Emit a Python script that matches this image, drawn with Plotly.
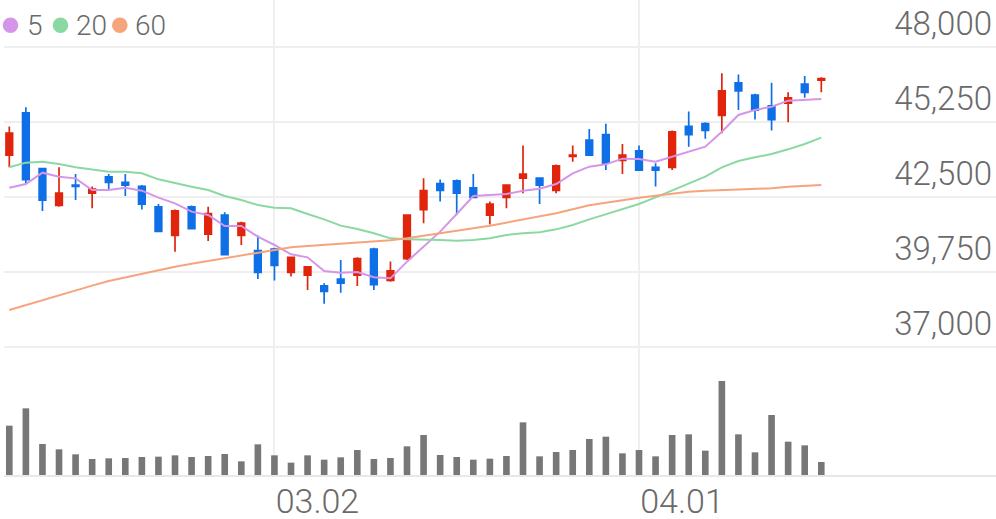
import plotly.graph_objects as go

# ---------------- data ----------------
dates = ["02.07", "02.10", "02.11", "02.12", "02.13", "02.14", "02.17", "02.18", "02.19", "02.20",
         "02.21", "02.24", "02.25", "02.26", "02.27", "02.28", "03.02", "03.03", "03.04", "03.05",
         "03.06", "03.09", "03.10", "03.11", "03.12", "03.13", "03.16", "03.17", "03.18", "03.19",
         "03.20", "03.23", "03.24", "03.25", "03.26", "03.27", "03.30", "03.31", "04.01", "04.02",
         "04.03", "04.06", "04.07", "04.08", "04.09", "04.10", "04.13", "04.14", "04.16", "04.17"]

open_ = [44050, 45600, 43550, 42200, 42950, 42650, 43250, 43050, 42900, 42150,
         41100, 42150, 41150, 41850, 41100, 40550, 40600, 39750, 39650, 39250,
         39500, 39650, 40600, 39450, 40250, 42050, 43000, 43100, 42850, 41850,
         42500, 43200, 43200, 42750, 44000, 44600, 44800, 43850, 44200, 43600,
         43600, 45100, 45200, 45500, 46700, 46250, 45850, 45950, 46650, 46800]
high = [45100, 45800, 43550, 43600, 43350, 42900, 43350, 43350, 42950, 42250,
        42050, 42200, 42150, 41950, 41600, 41100, 40650, 40300, 39950, 39350,
        40200, 40300, 40650, 40150, 41850, 43200, 43150, 43150, 43350, 42350,
        42950, 44400, 43200, 43700, 44400, 45000, 45200, 44450, 44400, 43750,
        44950, 45650, 45250, 47050, 47000, 46300, 46700, 46350, 46950, 46900]
low = [43600, 43000, 42000, 42150, 42400, 42100, 42800, 42550, 42050, 41250,
       40500, 41350, 40900, 40400, 40750, 39500, 39450, 39600, 39100, 38600,
       39000, 39250, 39100, 39400, 40200, 41550, 42350, 41850, 42500, 41500,
       42100, 42650, 42250, 42650, 43800, 44050, 43500, 43350, 43500, 42900,
       43500, 44350, 44650, 44850, 45700, 45350, 44950, 45250, 46150, 46350]
close = [44850, 43150, 42400, 42650, 42900, 42800, 43050, 42950, 42250, 41250,
         42000, 41350, 41900, 40400, 41550, 39750, 40000, 40300, 39950, 39050,
         39350, 40250, 39300, 39800, 41850, 42750, 42750, 42650, 42500, 42250,
         42950, 43350, 42950, 43650, 44050, 44050, 43750, 44050, 43500, 43500,
         44900, 44800, 44950, 46400, 46400, 45700, 45350, 46150, 46350, 46850]

ma5 = [42853, 42988, 43403, 43257, 43195, 42768, 42768, 42853, 42743, 42486,
       42279, 41973, 41851, 41448, 41448, 41057, 40751, 40409, 40299, 39798,
       39737, 39761, 39566, 39529, 40140, 40690, 41240, 41887, 42548, 42584,
       42621, 42743, 42817, 42988, 43379, 43623, 43709, 43917, 43904, 43807,
       43990, 44173, 44357, 44907, 45518, 45701, 45823, 46043, 46068, 46104]
ma20 = [43599, 43770, 43807, 43721, 43599, 43525, 43440, 43440, 43379, 43159,
        43012, 42890, 42768, 42548, 42401, 42218, 42120, 42095, 41887, 41692,
        41460, 41338, 41179, 40995, 40959, 40959, 40934, 40910, 40934, 40995,
        41118, 41179, 41216, 41325, 41485, 41692, 41887, 42059, 42254, 42499,
        42743, 42988, 43257, 43599, 43831, 43966, 44088, 44259, 44454, 44687]
ma60 = [38368, 38551, 38734, 38893, 39077, 39260, 39431, 39566, 39700, 39834,
        39957, 40067, 40164, 40262, 40348, 40445, 40568, 40665, 40714, 40751,
        40800, 40837, 40873, 40922, 40995, 41081, 41179, 41276, 41362, 41460,
        41570, 41704, 41814, 41912, 42059, 42206, 42303, 42401, 42486, 42560,
        42646, 42707, 42743, 42768, 42792, 42804, 42829, 42890, 42927, 42951]

volume = [148000, 200000, 93000, 77000, 62000, 48000, 50000, 51000, 54000, 55000,
          59000, 54000, 57000, 63000, 41000, 92000, 59000, 37000, 59000, 46000,
          53000, 75000, 48000, 51000, 86000, 120000, 60000, 54000, 46000, 49000,
          57000, 158000, 56000, 69000, 75000, 108000, 115000, 65000, 75000, 56000,
          120000, 122000, 73000, 282000, 122000, 68000, 180000, 100000, 89000, 39000]

price_ticks = [37000, 39750, 42500, 45250, 48000]
date_ticks = ["03.02", "04.01"]
ma_names = ["5", "20", "60"]

# ---------------- styles ----------------
W, H = 996, 519
RED = "#e0250c"
BLUE = "#0f6fe6"
MA_COLORS = ["#d595e8", "#8bd9a2", "#f6a47c"]
GRID = "#efefef"
TEXT = "#6a6a6a"
FONT = "Roboto"


def py(px):  # pixel from top -> paper y
    return (H - px) / H


def pxx(px):
    return px / W


fig = go.Figure()

fig.add_trace(go.Candlestick(
    x=dates, open=open_, high=high, low=low, close=close,
    increasing=dict(line=dict(color=RED, width=1.7), fillcolor=RED),
    decreasing=dict(line=dict(color=BLUE, width=1.7), fillcolor=BLUE),
    whiskerwidth=0, showlegend=False, xaxis="x", yaxis="y",
))

for name, vals, col in zip(ma_names, [ma5, ma20, ma60], MA_COLORS):
    fig.add_trace(go.Scatter(x=dates, y=vals, mode="lines", name=name,
                             line=dict(color=col, width=2), showlegend=False,
                             xaxis="x", yaxis="y"))

fig.add_trace(go.Bar(x=dates, y=volume, marker=dict(color="#777777", line=dict(width=0)),
                     width=0.4, showlegend=False, xaxis="x2", yaxis="y2"))

xr = [-0.3198, 59.543]
xdom = [4 / W, 1]

fig.update_layout(
    width=W, height=H,
    margin=dict(l=0, r=0, t=0, b=0, autoexpand=False),
    paper_bgcolor="white", plot_bgcolor="white",
    boxgap=0.43, boxgroupgap=0.3,
    xaxis=dict(domain=xdom, range=xr, type="category", anchor="y", automargin=False,
               tickvals=date_ticks, showticklabels=False, ticks="",
               showgrid=True, gridcolor=GRID, gridwidth=1.5,
               zeroline=False, showline=False, rangeslider=dict(visible=False),
               fixedrange=True),
    yaxis=dict(domain=[py(360), 1], range=[36534.3, 49734.4], anchor="x", automargin=False,
               side="right", tickvals=price_ticks, tickformat=",d",
               ticklabelposition="inside", ticks="", ticklabelshift=-24,
               ticklabelstandoff=1,
               tickfont=dict(family=FONT, size=33, color=TEXT, weight=300),
               showgrid=True, gridcolor=GRID, gridwidth=1.5,
               zeroline=False, showline=False),
    xaxis2=dict(domain=xdom, range=xr, type="category", anchor="y2", automargin=False,
                tickvals=date_ticks, ticks="", ticklabelshift=43,
                ticklabelstandoff=-5,
                tickfont=dict(family=FONT, size=34, color=TEXT, weight=300),
                showgrid=True, gridcolor=GRID, gridwidth=1.5,
                showline=True, linecolor="#e8e8e8", linewidth=2,
                zeroline=False),
    yaxis2=dict(domain=[py(475), py(360)], range=[0, 345000], anchor="x2", automargin=False,
                showticklabels=False, ticks="", showgrid=False,
                zeroline=False, showline=False),
)

# legend: coloured dots + labels
dot_cx = [10.5, 60.5, 119.8]
text_x = [24.5, 73.5, 132.5]
for name, col, cx, tx in zip(ma_names, MA_COLORS, dot_cx, text_x):
    fig.add_shape(type="circle", xref="paper", yref="paper",
                  x0=pxx(cx - 7.8), x1=pxx(cx + 7.8), y0=py(25.3 + 7.8), y1=py(25.3 - 7.8),
                  fillcolor=col, line=dict(width=0))
    fig.add_annotation(xref="paper", yref="paper", x=pxx(tx), y=py(25.5),
                       xanchor="left", yanchor="middle", showarrow=False, text=name,
                       font=dict(family=FONT, size=28, color=TEXT, weight=300))

fig.write_html("out.html", config={"displayModeBar": False},
               post_script="document.body.style.margin='0px';")
